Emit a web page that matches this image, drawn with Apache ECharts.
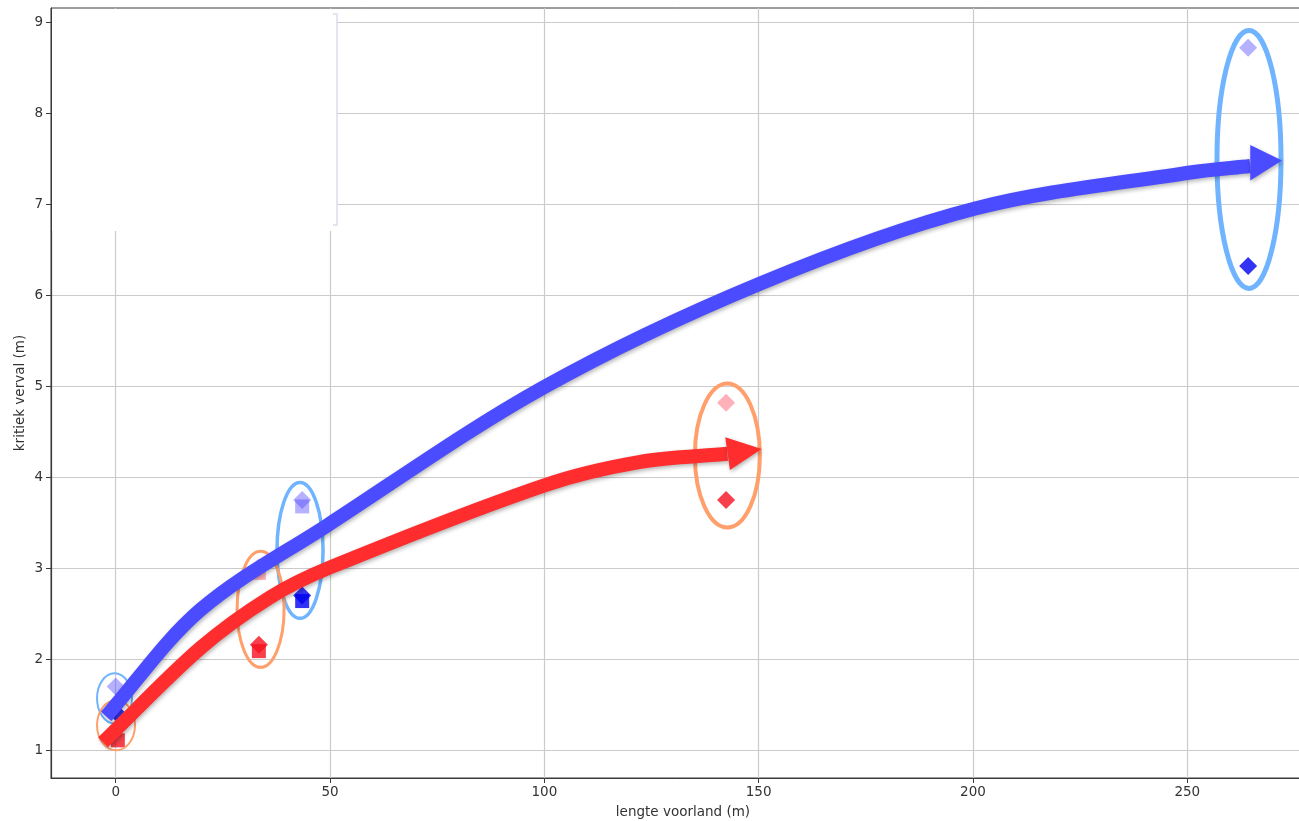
<!DOCTYPE html>
<html>
<head>
<meta charset="utf-8">
<script src="https://cdn.jsdelivr.net/npm/echarts@6/dist/echarts.min.js"></script>
<style>
  html, body { margin: 0; padding: 0; background: #ffffff; }
  #chart { width: 1299px; height: 821px; }
</style>
</head>
<body>
<div id="chart"></div>
<script>
// Axis ticks
const xTicks = [0, 50, 100, 150, 200, 250];
const yTicks = [1, 2, 3, 4, 5, 6, 7, 8, 9];

// Measured critical head loss per foreland length: [length (m), head loss (m)]
const blueLightDiamond = [[0, 1.70], [43.5, 3.75], [264.2, 8.72]];
const blueLightSquare  = [[43.5, 3.68]];
const blueDiamond      = [[0, 1.42], [43.5, 2.70], [264.2, 6.32]];
const blueSquare       = [[43.5, 2.64]];
const redLightDiamond  = [[33.4, 3.01], [142.4, 4.82]];
const redLightSquare   = [[33.4, 2.95]];
const redDiamond       = [[33.4, 2.16], [142.4, 3.75]];
const redSquare        = [[0.5, 1.11], [33.4, 2.09]];

// Group outlines: [centre length, centre head loss, half-width, half-height]
const blueRings   = [[-0.28, 1.571, 4.08, 0.275], [43.0, 3.197, 5.37, 0.747], [264.4, 7.492, 7.47, 1.417]];
const orangeRings = [[0.07, 1.275, 4.43, 0.275], [33.8, 2.549, 5.48, 0.637], [142.7, 4.240, 7.58, 0.791]];

// Trend arrows: shaft points and head triangle
const blueTrend = [[-2.24, 1.373], [19.67, 2.54], [49.3, 3.47], [99.5, 4.98], [150.4, 6.130], [200.5, 6.953], [250.7, 7.349], [264.7, 7.420]];
const redTrend  = [[-2.96, 1.088], [19.67, 2.120], [36.0, 2.681], [50.0, 3.010], [100.2, 3.915], [122.4, 4.170], [142.7, 4.258]];
const blueHead  = [264.7, 7.65, 272.1, 7.48, 264.7, 7.26];
const redHead   = [142.2, 4.44, 150.7, 4.31, 143.3, 4.08];

const FONT = 'DejaVu Sans';
const FONT_SIZE = 13.5;
const AXIS_COLOR = '#3a3a3a';
const BLUE_ARROW = '#4b4bff';
const RED_ARROW = '#ff2d2d';
const arrowShadow = { shadowBlur: 4, shadowColor: 'rgba(0,0,0,0.3)', shadowOffsetX: 1, shadowOffsetY: 2 };

function scatter(data, symbol, size, color, z) {
  return {
    type: 'scatter', data: data, symbol: symbol, symbolSize: size, z: z,
    itemStyle: { color: color }, silent: true, animation: false
  };
}

function rings(data, color, widths) {
  return {
    type: 'custom', z: 4, data: data, silent: true, animation: false,
    encode: { x: 0, y: 1 },
    renderItem: function (params, api) {
      const c = api.coord([api.value(0), api.value(1)]);
      const s = api.size([api.value(2), api.value(3)]);
      return {
        type: 'ellipse',
        shape: { cx: c[0], cy: c[1], rx: s[0], ry: s[1] },
        style: { fill: 'none', stroke: color, lineWidth: widths[params.dataIndex] }
      };
    }
  };
}

// Smooth curve through pixel points: tangent follows neighbours, handles a third of each segment
function smoothPath(pts) {
  let d = 'M' + pts[0][0] + ' ' + pts[0][1];
  const tangent = function (i) {
    const a = pts[Math.max(i - 1, 0)], b = pts[Math.min(i + 1, pts.length - 1)];
    const dx = b[0] - a[0], dy = b[1] - a[1], len = Math.hypot(dx, dy) || 1;
    return [dx / len, dy / len];
  };
  for (let i = 0; i < pts.length - 1; i++) {
    const p = pts[i], q = pts[i + 1];
    const seg = Math.hypot(q[0] - p[0], q[1] - p[1]) / 3;
    const t0 = tangent(i), t1 = tangent(i + 1);
    d += ' C' + (p[0] + t0[0] * seg) + ' ' + (p[1] + t0[1] * seg) + ' ' +
         (q[0] - t1[0] * seg) + ' ' + (q[1] - t1[1] * seg) + ' ' + q[0] + ' ' + q[1];
  }
  return d;
}

function trend(data, color) {
  return {
    type: 'custom', z: 6, silent: true, animation: false,
    data: [0],
    renderItem: function (params, api) {
      const pts = data.map(function (p) { return api.coord(p); });
      return {
        type: 'path',
        shape: { pathData: smoothPath(pts) },
        style: Object.assign({ fill: 'none', stroke: color, lineWidth: 14, lineCap: 'butt', lineJoin: 'round' }, arrowShadow)
      };
    }
  };
}

const headColors = [BLUE_ARROW, RED_ARROW];

const chart = echarts.init(document.getElementById('chart'), null, { renderer: 'canvas' });
chart.setOption({
  animation: false,
  backgroundColor: '#ffffff',
  grid: {
    left: 51, top: 8, right: -16, bottom: 43,
    show: true, borderColor: AXIS_COLOR, borderWidth: 1,
    outerBoundsMode: 'none', containLabel: false
  },
  xAxis: {
    type: 'value', min: -15.1, max: 279.8,
    name: 'lengte voorland (m)', nameLocation: 'middle', nameGap: 27, nameMoveOverlap: false,
    nameTextStyle: { fontFamily: FONT, fontSize: FONT_SIZE, color: '#333' },
    axisLine: { show: true, onZero: false, lineStyle: { color: AXIS_COLOR, width: 1.2 } },
    axisTick: { show: true, length: 5, customValues: xTicks, lineStyle: { color: AXIS_COLOR } },
    axisLabel: { customValues: xTicks, fontFamily: FONT, fontSize: FONT_SIZE, color: '#333', margin: 7 },
    splitLine: { show: true, lineStyle: { color: '#cbcbcb', width: 1.2 } }
  },
  yAxis: {
    type: 'value', min: 0.696, max: 9.156,
    name: 'kritiek verval (m)', nameLocation: 'middle', nameGap: 24, nameMoveOverlap: false,
    nameTextStyle: { fontFamily: FONT, fontSize: FONT_SIZE, color: '#333' },
    axisLine: { show: true, onZero: false, lineStyle: { color: AXIS_COLOR, width: 1.2 } },
    axisTick: { show: true, length: 5, customValues: yTicks, lineStyle: { color: AXIS_COLOR } },
    axisLabel: { customValues: yTicks, fontFamily: FONT, fontSize: FONT_SIZE, color: '#333', margin: 8 },
    splitLine: { show: true, lineStyle: { color: '#cbcbcb', width: 1.2 } }
  },
  graphic: [
    { type: 'rect', z: 1, silent: true, shape: { x: 52, y: 9, width: 285, height: 222 }, style: { fill: '#ffffff' } },
    { type: 'polyline', z: 1, silent: true, shape: { points: [[333, 14], [337, 14], [337, 225], [333, 225]] },
      style: { stroke: '#dcdcf2', lineWidth: 1.5, fill: null } }
  ],
  series: [
    scatter(blueLightSquare, 'rect', 14, 'rgba(70,60,255,0.5)', 2),
    scatter(blueLightDiamond, 'diamond', 18, 'rgba(70,60,255,0.5)', 2),
    scatter(blueSquare, 'rect', 14, '#0000f0', 2),
    scatter(blueDiamond, 'diamond', 18, '#0000f0', 2),
    scatter(redLightSquare, 'rect', 14, 'rgba(255,40,60,0.45)', 2),
    scatter(redLightDiamond, 'diamond', 18, 'rgba(255,40,60,0.45)', 2),
    scatter(redSquare, 'rect', 14, '#f5101e', 2),
    scatter(redDiamond, 'diamond', 18, '#f5101e', 2),
    rings(blueRings, '#70b4ff', [2, 3.5, 5]),
    rings(orangeRings, '#ff9f6b', [2, 3, 4]),
    trend(blueTrend, BLUE_ARROW),
    trend(redTrend, RED_ARROW),
    {
      type: 'custom', z: 6, silent: true, animation: false,
      data: [blueHead, redHead],
      encode: { x: [0, 2, 4], y: [1, 3, 5] },
      renderItem: function (params, api) {
        const pts = [0, 2, 4].map(function (i) { return api.coord([api.value(i), api.value(i + 1)]); });
        return {
          type: 'polygon',
          shape: { points: pts },
          style: Object.assign({ fill: headColors[params.dataIndex] }, arrowShadow)
        };
      }
    }
  ]
});
</script>
</body>
</html>
